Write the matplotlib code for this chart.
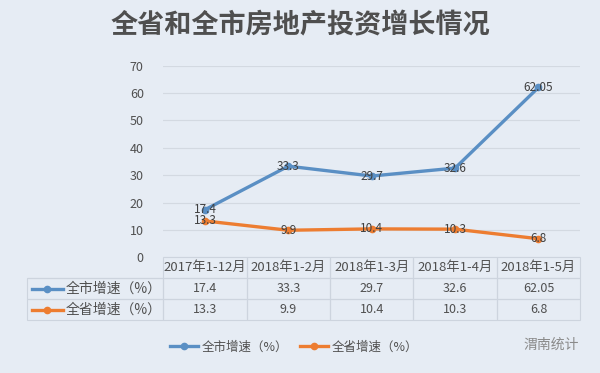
import matplotlib
matplotlib.use("Agg")
import matplotlib.pyplot as plt
from matplotlib.lines import Line2D

plt.rcParams['font.family'] = ['Noto Sans CJK SC', 'DejaVu Sans']

# data
categories = ['2017年1-12月', '2018年1-2月', '2018年1-3月', '2018年1-4月', '2018年1-5月']
city_vals = [17.4, 33.3, 29.7, 32.6, 62.05]
prov_vals = [13.3, 9.9, 10.4, 10.3, 6.8]
city_labels = ['17.4', '33.3', '29.7', '32.6', '62.05']
prov_labels = ['13.3', '9.9', '10.4', '10.3', '6.8']
series_names = ['全市增速（%）', '全省增速（%）']
title = '全省和全市房地产投资增长情况'

bg = '#e6ecf4'
blue = '#5a8fc4'
orange = '#ed7d31'
txt = '#505050'

fig = plt.figure(figsize=(6, 3.73), dpi=100, facecolor=bg)
ax = fig.add_axes([0.272, 0.310, 0.695, 0.514], facecolor=bg)

x = list(range(len(categories)))
ax.plot(x, city_vals, color=blue, lw=2.4, marker='o', ms=4.5, zorder=3)
ax.plot(x, prov_vals, color=orange, lw=2.4, marker='o', ms=4.5, zorder=3)
for xi, v, s in zip(x, city_vals, city_labels):
    ax.text(xi, v, s, ha='center', va='center', fontsize=8.5, color='#404040', zorder=4)
for xi, v, s in zip(x, prov_vals, prov_labels):
    ax.text(xi, v, s, ha='center', va='center', fontsize=8.5, color='#404040', zorder=4)

ax.set_xlim(-0.5, len(categories) - 0.5)
ax.set_ylim(0, 70)
ax.set_yticks(range(0, 71, 10))
ax.set_xticks([])
ax.tick_params(axis='y', length=0, labelsize=9, labelcolor=txt, pad=14)
ax.grid(axis='y', color='#d3d9e1', lw=0.8)
ax.set_axisbelow(True)
for sp in ax.spines.values():
    sp.set_visible(False)

# data table under the plot, first column holds the series names
cell_text = [[series_names[0]] + city_labels,
             [series_names[1]] + prov_labels]
lab_w = 136 / 553
col_w = (1 - lab_w) / len(categories)
tbl = ax.table(cellText=cell_text, colLabels=[''] + categories, cellLoc='center',
               colWidths=[lab_w] + [col_w] * len(categories),
               bbox=[-0.326, -0.327, 1.326, 0.327])
tbl.auto_set_font_size(False)
for (r, c), cell in tbl.get_celld().items():
    cell.set_facecolor('none')
    cell.set_edgecolor('#cdd4de')
    cell.set_linewidth(0.8)
    cell.get_text().set_fontsize(9)
    cell.get_text().set_color(txt)
    if c == 0:
        cell.get_text().set_ha('left')
        cell.PAD = 0.28
        if r > 0:
            cell.get_text().set_fontsize(10)
    if r == 0 and c == 0:
        cell.visible_edges = 'B'
    if r == 0:
        cell.get_text().set_fontsize(9.5)

# line symbols in row labels
for i, col in enumerate([blue, orange]):
    yy = -0.327 + (0.327 / 3) * (1.5 - i)
    ax.add_line(Line2D([-0.315, -0.240], [yy, yy], color=col, lw=2.4,
                       transform=ax.transAxes, clip_on=False))
    ax.plot([-0.278], [yy], marker='o', ms=4.5, color=col, transform=ax.transAxes, clip_on=False)

fig.text(0.5, 0.933, title, ha='center', va='center', fontsize=19.5, fontweight='bold', color='#4f4f4f')

handles = [Line2D([], [], color=blue, lw=2.4, marker='o', ms=4.5),
           Line2D([], [], color=orange, lw=2.4, marker='o', ms=4.5)]
fig.legend(handles, series_names, loc='center', bbox_to_anchor=(0.49, 0.07), ncol=2,
           frameon=False, fontsize=9, labelcolor=txt, handlelength=2.2, columnspacing=1.0,
           handletextpad=0.3)

fig.text(0.965, 0.075, '渭南统计', ha='right', va='center', fontsize=10, color='#8a8a8a')

fig.savefig('out.png', dpi=100, facecolor=bg)
